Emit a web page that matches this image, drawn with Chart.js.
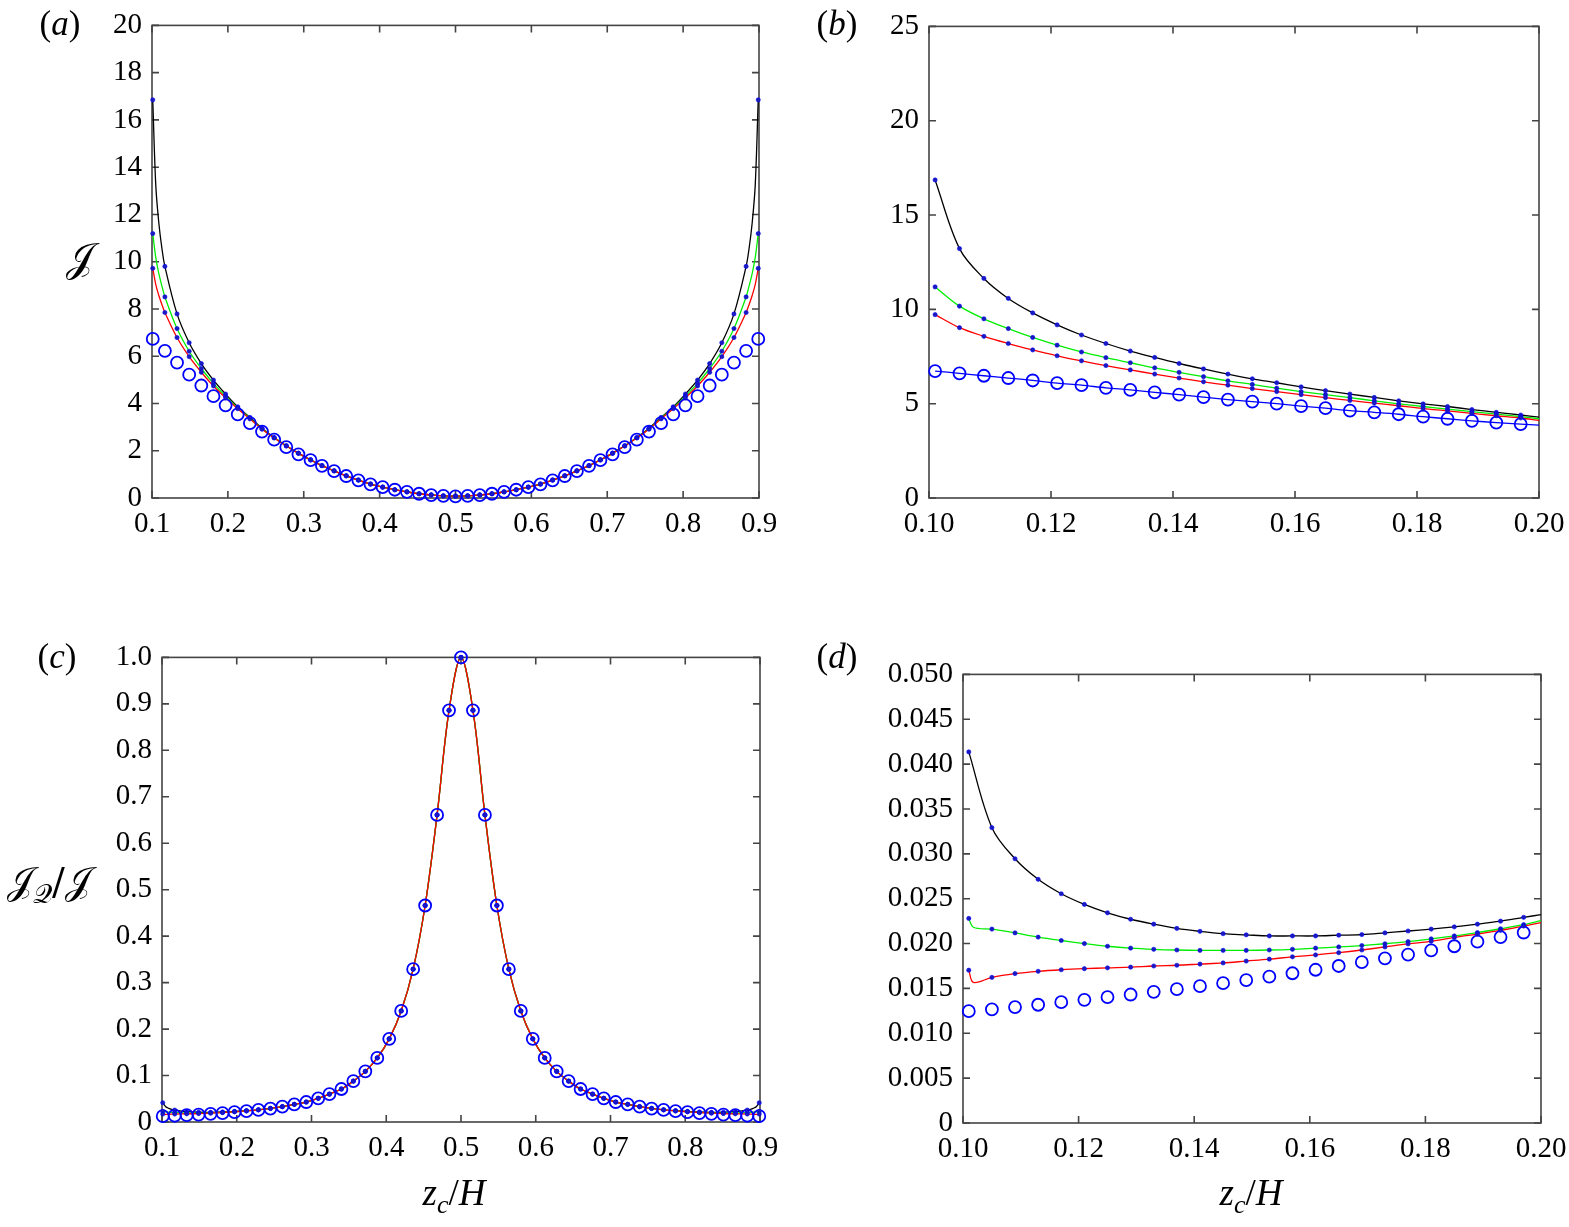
<!DOCTYPE html>
<html>
<head>
<meta charset="utf-8">
<script src="https://cdn.jsdelivr.net/npm/chart.js@4.4.1/dist/chart.umd.min.js"></script>
<style>
  html, body { margin: 0; padding: 0; background: #fff; }
  body { width: 1569px; height: 1227px; position: relative; overflow: hidden; font-family: "Liberation Serif", serif; }
  .box { position: absolute; }
  .txt { position: absolute; font-family: "Liberation Serif", "Times New Roman", serif; color: #000; white-space: nowrap; }
  .scr { font-family: "DejaVu Serif", "DejaVu Sans", "Noto Sans", serif; }
  sub { font-size: 0.7em; vertical-align: -0.32em; line-height: 0; }
</style>
</head>
<body>
<script>
// sample positions z_c/H, panels (a) and (c)
const zA = [0.101, 0.117, 0.133, 0.149, 0.165, 0.181, 0.197, 0.213, 0.229, 0.245,
  0.261, 0.277, 0.293, 0.309, 0.324, 0.340, 0.356, 0.372, 0.388, 0.404,
  0.420, 0.436, 0.452, 0.468, 0.484, 0.500, 0.516, 0.532, 0.548, 0.564,
  0.580, 0.596, 0.612, 0.628, 0.644, 0.660, 0.676, 0.691, 0.707, 0.723,
  0.739, 0.755, 0.771, 0.787, 0.803, 0.819, 0.835, 0.851, 0.867, 0.883, 0.899];

// panel (a): J
const aBlack = [16.85, 9.80, 7.79, 6.57, 5.69, 4.99, 4.40, 3.86, 3.41, 2.95,
  2.56, 2.21, 1.90, 1.62, 1.37, 1.15, 0.94, 0.76, 0.59, 0.46,
  0.35, 0.26, 0.18, 0.13, 0.09, 0.08, 0.09, 0.13, 0.18, 0.26,
  0.35, 0.46, 0.59, 0.76, 0.94, 1.15, 1.37, 1.62, 1.90, 2.21,
  2.56, 2.95, 3.41, 3.86, 4.40, 4.99, 5.69, 6.57, 7.79, 9.80, 16.85];
const aGreen = [11.19, 8.51, 7.17, 6.21, 5.48, 4.85, 4.31, 3.82, 3.38, 2.93,
  2.55, 2.21, 1.89, 1.61, 1.37, 1.15, 0.94, 0.76, 0.59, 0.46,
  0.35, 0.26, 0.18, 0.13, 0.09, 0.08, 0.09, 0.13, 0.18, 0.26,
  0.35, 0.46, 0.59, 0.76, 0.94, 1.15, 1.37, 1.61, 1.89, 2.21,
  2.55, 2.93, 3.38, 3.82, 4.31, 4.85, 5.48, 6.21, 7.17, 8.51, 11.19];
const aRed = [9.72, 7.85, 6.79, 5.98, 5.32, 4.74, 4.24, 3.78, 3.35, 2.91,
  2.54, 2.20, 1.89, 1.61, 1.37, 1.15, 0.94, 0.76, 0.59, 0.46,
  0.35, 0.26, 0.18, 0.13, 0.09, 0.08, 0.09, 0.13, 0.18, 0.26,
  0.35, 0.46, 0.59, 0.76, 0.94, 1.15, 1.37, 1.61, 1.89, 2.20,
  2.54, 2.91, 3.35, 3.78, 4.24, 4.74, 5.32, 5.98, 6.79, 7.85, 9.72];
const aCircle = [6.73, 6.23, 5.73, 5.22, 4.76, 4.31, 3.92, 3.54, 3.17, 2.81,
  2.47, 2.15, 1.85, 1.60, 1.36, 1.14, 0.93, 0.75, 0.58, 0.46,
  0.35, 0.26, 0.18, 0.125, 0.09, 0.07, 0.09, 0.125, 0.18, 0.26,
  0.35, 0.46, 0.58, 0.75, 0.93, 1.14, 1.36, 1.60, 1.85, 2.15,
  2.47, 2.81, 3.17, 3.54, 3.92, 4.31, 4.76, 5.22, 5.73, 6.23, 6.73];

// extra curve samples close to the walls (the curves bend hard there)
const zEdge = [0.105, 0.109, 0.113, 0.887, 0.891, 0.895];
const aBlackEdge = [13.22, 11.64, 10.58, 10.58, 11.64, 13.22];
const aGreenEdge = [10.17, 9.50, 8.98, 8.98, 9.50, 10.17];
const aRedEdge = [9.03, 8.57, 8.19, 8.19, 8.57, 9.03];

// panel (c): J_Q / J
const cBlack = [0.0414, 0.0256, 0.0222, 0.0210, 0.0209, 0.0216, 0.0229, 0.0243, 0.0263, 0.0292,
  0.033, 0.038, 0.043, 0.051, 0.060, 0.071, 0.088, 0.109, 0.138, 0.179,
  0.239, 0.329, 0.466, 0.661, 0.886, 1.000, 0.886, 0.661, 0.466, 0.329,
  0.239, 0.179, 0.138, 0.109, 0.088, 0.071, 0.060, 0.051, 0.043, 0.038,
  0.033, 0.0292, 0.0263, 0.0243, 0.0229, 0.0216, 0.0209, 0.0210, 0.0222, 0.0256, 0.0414];
const cGreen = [0.0228, 0.0203, 0.0194, 0.0192, 0.0196, 0.0205, 0.0221, 0.0240, 0.0262, 0.0292,
  0.033, 0.038, 0.043, 0.051, 0.060, 0.071, 0.088, 0.109, 0.138, 0.179,
  0.239, 0.329, 0.466, 0.661, 0.886, 1.000, 0.886, 0.661, 0.466, 0.329,
  0.239, 0.179, 0.138, 0.109, 0.088, 0.071, 0.060, 0.051, 0.043, 0.038,
  0.033, 0.0292, 0.0262, 0.0240, 0.0221, 0.0205, 0.0196, 0.0192, 0.0194, 0.0203, 0.0228];
const cRed = [0.0170, 0.0171, 0.0175, 0.0181, 0.0190, 0.0203, 0.0220, 0.0238, 0.0262, 0.0292,
  0.033, 0.038, 0.043, 0.051, 0.060, 0.071, 0.088, 0.109, 0.138, 0.179,
  0.239, 0.329, 0.466, 0.661, 0.886, 1.000, 0.886, 0.661, 0.466, 0.329,
  0.239, 0.179, 0.138, 0.109, 0.088, 0.071, 0.060, 0.051, 0.043, 0.038,
  0.033, 0.0292, 0.0262, 0.0238, 0.0220, 0.0203, 0.0190, 0.0181, 0.0175, 0.0171, 0.0170];
const cCircle = [0.0125, 0.0135, 0.0146, 0.0159, 0.0175, 0.0192, 0.0212, 0.0234, 0.0259, 0.029,
  0.033, 0.038, 0.043, 0.051, 0.060, 0.071, 0.088, 0.109, 0.138, 0.179,
  0.239, 0.329, 0.466, 0.661, 0.886, 1.000, 0.886, 0.661, 0.466, 0.329,
  0.239, 0.179, 0.138, 0.109, 0.088, 0.071, 0.060, 0.051, 0.043, 0.038,
  0.033, 0.029, 0.0259, 0.0234, 0.0212, 0.0192, 0.0175, 0.0159, 0.0146, 0.0135, 0.0125];
const cBlackEdge = [0.0329, 0.0295, 0.0272, 0.0272, 0.0295, 0.0329];
const cGreenEdge = [0.0216, 0.0212, 0.0207, 0.0207, 0.0212, 0.0216];
const cRedEdge = [0.0162, 0.0167, 0.0169, 0.0169, 0.0167, 0.0162];

// close-up positions, panels (b) and (d)
const zB = [0.101, 0.105, 0.109, 0.113, 0.117, 0.121, 0.125, 0.129, 0.133, 0.137,
  0.141, 0.145, 0.149, 0.153, 0.157, 0.161, 0.165, 0.169, 0.173, 0.177,
  0.181, 0.185, 0.189, 0.193, 0.197];
const zEnd = 0.200;

// panel (b)
const bBlack = [16.86, 13.22, 11.64, 10.58, 9.81, 9.18, 8.64, 8.19, 7.79, 7.45,
  7.13, 6.84, 6.57, 6.32, 6.11, 5.89, 5.69, 5.51, 5.33, 5.15,
  4.99, 4.85, 4.69, 4.54, 4.40];
const bGreen = [11.19, 10.17, 9.50, 8.98, 8.51, 8.10, 7.74, 7.44, 7.17, 6.90,
  6.66, 6.43, 6.21, 6.02, 5.82, 5.64, 5.48, 5.32, 5.15, 4.99,
  4.85, 4.71, 4.58, 4.45, 4.31];
const bRed = [9.72, 9.03, 8.57, 8.19, 7.85, 7.54, 7.27, 7.02, 6.79, 6.57,
  6.36, 6.16, 5.98, 5.80, 5.64, 5.48, 5.32, 5.17, 5.03, 4.89,
  4.74, 4.62, 4.49, 4.36, 4.24];
const bCircle = [6.73, 6.61, 6.48, 6.36, 6.23, 6.09, 5.98, 5.84, 5.73, 5.60,
  5.48, 5.35, 5.22, 5.11, 5.00, 4.87, 4.76, 4.63, 4.54, 4.44,
  4.31, 4.20, 4.09, 4.00, 3.92];
const bEnd = { black: 4.29, green: 4.20, red: 4.11, blue: 3.86 };

// panel (d)
const dBlack = [0.04136, 0.03292, 0.02945, 0.02716, 0.02555, 0.02436, 0.02343, 0.02271, 0.02216, 0.02169,
  0.02136, 0.02110, 0.02097, 0.02085, 0.02085, 0.02085, 0.02093, 0.02100, 0.02119, 0.02140,
  0.02161, 0.02186, 0.02216, 0.02250, 0.02292];
const dGreen = [0.02280, 0.02161, 0.02119, 0.02072, 0.02034, 0.02000, 0.01970, 0.01949, 0.01936, 0.01928,
  0.01924, 0.01924, 0.01924, 0.01928, 0.01936, 0.01949, 0.01962, 0.01978, 0.01998, 0.02022,
  0.02052, 0.02085, 0.02122, 0.02165, 0.02210];
const dRed = [0.01703, 0.01623, 0.01665, 0.01691, 0.01708, 0.01720, 0.01729, 0.01737, 0.01750, 0.01758,
  0.01771, 0.01784, 0.01805, 0.01826, 0.01852, 0.01873, 0.01898, 0.01928, 0.01962, 0.01996,
  0.02025, 0.02068, 0.02106, 0.02148, 0.02195];
const dCircle = [0.01246, 0.01267, 0.01292, 0.01318, 0.01347, 0.01373, 0.01403, 0.01432, 0.01462, 0.01492,
  0.01525, 0.01559, 0.01593, 0.01631, 0.01669, 0.01708, 0.01750, 0.01792, 0.01835, 0.01877,
  0.01924, 0.01970, 0.02021, 0.02072, 0.02123];
const dKinkZ = 0.1018;
const dKink = { green: 0.02182, red: 0.01568 };
const dEnd = { black: 0.02322, green: 0.02255, red: 0.02233 };

// ---- layout ----
const YW = 110, XH = 60, PT = 20, PR = 40;
const FAMILY = "'Liberation Serif', serif";

function pts(xs, ys) {
  return xs.map((x, i) => ({ x: x, y: ys[i] }));
}

function merged(xs, ys, ex, ey) {
  return pts(xs, ys).concat(pts(ex, ey)).sort((p, q) => p.x - q.x);
}

function dots(xs, ys) {
  return {
    data: pts(xs, ys), showLine: false, clip: false,
    pointRadius: 2.1, pointBackgroundColor: '#1c1cb8', pointBorderColor: '#0000ff', pointBorderWidth: 0.6
  };
}

function circles(xs, ys) {
  return {
    data: pts(xs, ys), showLine: false, clip: false,
    pointRadius: 6, pointBackgroundColor: 'rgba(0,0,0,0)', pointBorderColor: '#0000ff', pointBorderWidth: 1.8
  };
}

function curve(data, color) {
  return {
    data: data, showLine: true, pointRadius: 0, borderColor: color, borderWidth: 1.3,
    tension: 0.35, fill: false
  };
}

const frame = {
  id: 'frame',
  beforeDatasetsDraw(chart) {
    const ctx = chart.ctx, a = chart.chartArea, x = chart.scales.x, y = chart.scales.y;
    ctx.save();
    ctx.strokeStyle = '#444';
    ctx.lineWidth = 1.6;
    ctx.beginPath();
    x.ticks.forEach(t => {
      const px = x.getPixelForValue(t.value);
      ctx.moveTo(px, a.bottom); ctx.lineTo(px, a.bottom - 7);
      ctx.moveTo(px, a.top); ctx.lineTo(px, a.top + 7);
    });
    y.ticks.forEach(t => {
      const py = y.getPixelForValue(t.value);
      ctx.moveTo(a.left, py); ctx.lineTo(a.left + 7, py);
      ctx.moveTo(a.right, py); ctx.lineTo(a.right - 7, py);
    });
    ctx.stroke();
    ctx.strokeRect(a.left, a.top, a.right - a.left, a.bottom - a.top);
    ctx.restore();
  }
};

function panel(box, datasets, xr, yr) {
  const div = document.createElement('div');
  div.className = 'box';
  const w = box.R - box.L + YW + PR, h = box.B - box.T + PT + XH;
  div.style.left = (box.L - YW) + 'px';
  div.style.top = (box.T - PT) + 'px';
  div.style.width = w + 'px';
  div.style.height = h + 'px';
  const cv = document.createElement('canvas');
  cv.width = w; cv.height = h;
  cv.style.width = w + 'px'; cv.style.height = h + 'px';
  div.appendChild(cv);
  document.body.appendChild(div);
  return new Chart(cv, {
    type: 'scatter',
    data: { datasets: datasets },
    options: {
      responsive: false, animation: false, events: [],
      layout: { autoPadding: false, padding: { left: 0, top: PT, right: PR, bottom: 0 } },
      plugins: { legend: { display: false }, tooltip: { enabled: false } },
      scales: {
        x: {
          type: 'linear', min: xr[0], max: xr[1],
          grid: { display: false, drawTicks: false }, border: { display: false },
          ticks: { stepSize: xr[2], autoSkip: false, maxRotation: 0, padding: 9, color: '#000',
            font: { family: FAMILY, size: 29 }, callback: v => v.toFixed(xr[3]) },
          afterFit: s => { s.height = XH; }
        },
        y: {
          type: 'linear', min: yr[0], max: yr[1],
          grid: { display: false, drawTicks: false }, border: { display: false },
          ticks: { stepSize: yr[2], autoSkip: false, padding: 10, color: '#000',
            font: { family: FAMILY, size: 29 },
            callback: v => Math.abs(v) < 1e-9 ? '0' : v.toFixed(yr[3]) },
          afterFit: s => { s.width = YW; }
        }
      }
    },
    plugins: [frame]
  });
}

function label(html, cx, base, size, cls) {
  const el = document.createElement('div');
  el.className = 'txt' + (cls ? ' ' + cls : '');
  el.innerHTML = html;
  el.style.fontSize = size + 'px';
  el.style.lineHeight = size + 'px';
  el.style.top = (base - 0.8375 * size) + 'px';
  el.style.left = cx + 'px';
  el.style.transform = 'translateX(-50%)';
  document.body.appendChild(el);
}

function withKink(ys, kink, end) {
  const p = pts(zB, ys);
  return [p[0], { x: dKinkZ, y: kink }].concat(p.slice(1), [{ x: zEnd, y: end }]);
}

function draw() {
  // (a)
  panel({ L: 152, T: 18, R: 759, B: 498 }, [
    dots(zA, aRed), dots(zA, aGreen), dots(zA, aBlack),
    circles(zA, aCircle),
    curve(merged(zA, aRed, zEdge, aRedEdge), '#ff0000'),
    curve(merged(zA, aGreen, zEdge, aGreenEdge), '#00ee00'),
    curve(merged(zA, aBlack, zEdge, aBlackEdge), '#000000')
  ], [0.1, 0.9, 0.1, 1], [0, 20, 2, 0]);

  // (b)
  panel({ L: 929, T: 19, R: 1539, B: 498 }, [
    dots(zB, bRed), dots(zB, bGreen), dots(zB, bBlack),
    circles(zB, bCircle),
    curve(pts(zB, bCircle).concat([{ x: zEnd, y: bEnd.blue }]), '#0000ff'),
    curve(pts(zB, bRed).concat([{ x: zEnd, y: bEnd.red }]), '#ff0000'),
    curve(pts(zB, bGreen).concat([{ x: zEnd, y: bEnd.green }]), '#00ee00'),
    curve(pts(zB, bBlack).concat([{ x: zEnd, y: bEnd.black }]), '#000000')
  ], [0.10, 0.20, 0.02, 2], [0, 25, 5, 0]);

  // (c)
  panel({ L: 162, T: 650, R: 760, B: 1122 }, [
    dots(zA, cRed), dots(zA, cGreen), dots(zA, cBlack),
    circles(zA, cCircle),
    curve(merged(zA, cRed, zEdge, cRedEdge), '#ff0000'),
    curve(merged(zA, cGreen, zEdge, cGreenEdge), '#00ee00'),
    curve(merged(zA, cBlack, zEdge, cBlackEdge), '#000000')
  ], [0.1, 0.9, 0.1, 1], [0, 1.0, 0.1, 1]);

  // (d)
  panel({ L: 963, T: 667, R: 1541, B: 1123 }, [
    dots(zB, dRed), dots(zB, dGreen), dots(zB, dBlack),
    circles(zB, dCircle),
    curve(withKink(dRed, dKink.red, dEnd.red), '#ff0000'),
    curve(withKink(dGreen, dKink.green, dEnd.green), '#00ee00'),
    curve(pts(zB, dBlack).concat([{ x: zEnd, y: dEnd.black }]), '#000000')
  ], [0.10, 0.20, 0.02, 2], [0, 0.05, 0.005, 3]);

  // panel letters and axis titles
  label('(<i>a</i>)', 60, 35, 35);
  label('(<i>b</i>)', 837, 35, 35);
  label('(<i>c</i>)', 57, 668, 35);
  label('(<i>d</i>)', 837, 668, 35);
  label('<span class="scr">𝒥</span>', 80, 270, 40);
  label('<span class="scr">𝒥<sub>𝒬</sub>/𝒥</span>', 49, 894, 38);
  label('<i>z</i><sub><i>c</i></sub>/<i>H</i>', 454, 1205, 37);
  label('<i>z</i><sub><i>c</i></sub>/<i>H</i>', 1251, 1205, 37);
}

document.fonts.load("29px 'Liberation Serif'").then(draw, draw);
</script>
</body>
</html>
